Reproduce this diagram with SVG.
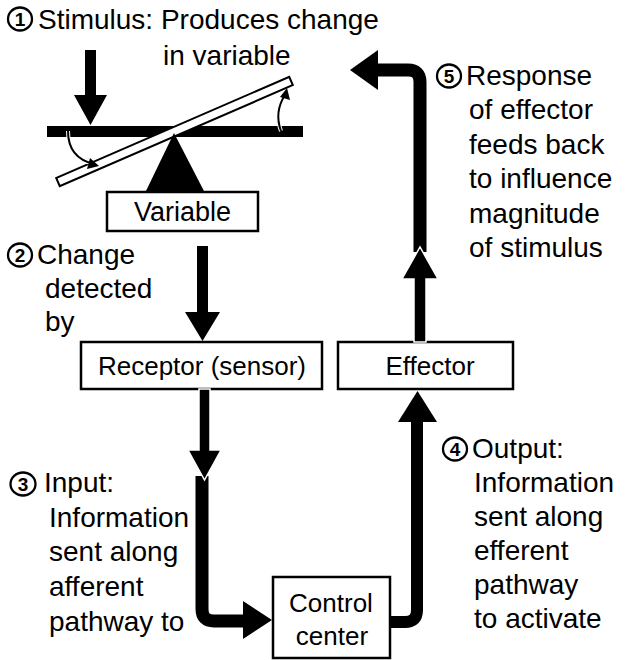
<svg xmlns="http://www.w3.org/2000/svg" width="625" height="660" viewBox="0 0 625 660">
<style>
text{font-family:"Liberation Sans",Arial,sans-serif;fill:#000}
.t{font-size:28px}
.b{font-size:26px}
.num{font-size:19px;font-weight:bold;text-anchor:middle}
.ring{fill:#fff;stroke:#000;stroke-width:2.3}
.box{fill:#fff;stroke:#000;stroke-width:2.5}
.blk{fill:#000}
.thick{fill:none;stroke:#000;stroke-width:13}
.headw{fill:#000;stroke:#fff;stroke-width:1.5}
</style>
<rect width="625" height="660" fill="#fff"/>

<g id="seesaw">
  <rect x="47" y="126" width="256" height="11" class="blk"/>
  <rect x="47.5" y="127" width="254" height="9" fill="#fff" stroke="#000" stroke-width="2" transform="rotate(-23.45 174.5 131.5)"/>
  <polygon points="174,133 205,193 145,193" class="blk"/>
  <path d="M68,131 Q68,158 94,164" fill="none" stroke="#fff" stroke-width="4"/>
  <path d="M68,131 Q68,158 94,164" fill="none" stroke="#000" stroke-width="2"/>
  <polygon points="99,166 87,169 90,158" class="blk"/>
  <path d="M281,131 Q274,112 285,95" fill="none" stroke="#fff" stroke-width="4"/>
  <path d="M281,131 Q274,112 285,95" fill="none" stroke="#000" stroke-width="2"/>
  <polygon points="287,88 290,100 280,97" class="blk"/>
</g>

<g id="variable">
  <rect x="107" y="192" width="151" height="39" class="box"/>
  <text x="182.5" y="221" class="b" text-anchor="middle" style="font-size:27px">Variable</text>
</g>

<g id="receptor">
  <rect x="81" y="342" width="241" height="47" class="box"/>
  <text x="202" y="375" class="b" text-anchor="middle">Receptor (sensor)</text>
</g>

<g id="effector">
  <rect x="338" y="342" width="175" height="47" class="box"/>
  <text x="430" y="375" class="b" text-anchor="middle">Effector</text>
</g>

<g id="control">
  <rect x="273" y="577" width="117" height="81" class="box"/>
  <text x="331" y="612" class="b" text-anchor="middle">Control</text>
  <text x="332" y="645" class="b" text-anchor="middle">center</text>
</g>

<g id="connectors">
  <path d="M85,50 H96 V95 H107 L90.5,125 L74,95 H85 Z" class="blk"/>
  <path d="M197,246 H208 V312 H220 L202.5,341 L185,312 H197 Z" class="blk"/>
  <path d="M202,476 V609 Q202,621 214,621 H246" class="thick"/>
  <path d="M199,389 H210 V450 H221 L204.5,480 L188,450 H199 Z" class="headw"/>
  <polygon points="243,601 272,620 243,639" class="blk"/>
  <path d="M390,622 H405 Q417,622 417,610 V420" class="thick" style="stroke-width:12"/>
  <polygon points="398,422 437,422 417.5,391" class="blk"/>
  <path d="M420,252 V82 Q420,70 408,70 H376" class="thick"/>
  <polygon points="378,50 378,90 350,70" class="blk"/>
  <path d="M414,342 V279 H402 L420,247 L438,279 H426 V342 Z" class="headw"/>
</g>

<g id="label1">
  <ellipse cx="20" cy="19" rx="12" ry="11.5" class="ring"/>
  <text x="20" y="26" class="num">1</text>
  <text x="38" y="29" class="t">Stimulus: Produces change</text>
  <text x="163" y="65" class="t">in variable</text>
</g>

<g id="label2">
  <ellipse cx="20" cy="255" rx="12" ry="11.5" class="ring"/>
  <text x="20" y="262" class="num">2</text>
  <text x="37" y="264" class="t">Change</text>
  <text x="45" y="298" class="t">detected</text>
  <text x="45" y="331" class="t">by</text>
</g>

<g id="label3">
  <ellipse cx="23" cy="484" rx="12.5" ry="11.5" class="ring"/>
  <text x="23" y="491" class="num">3</text>
  <text x="44" y="492" class="t">Input:</text>
  <text x="49" y="527" class="t">Information</text>
  <text x="49" y="561" class="t">sent along</text>
  <text x="49" y="596" class="t">afferent</text>
  <text x="49" y="631" class="t">pathway to</text>
</g>

<g id="label4">
  <ellipse cx="455" cy="449" rx="12" ry="11.5" class="ring"/>
  <text x="455" y="456" class="num">4</text>
  <text x="472" y="458" class="t">Output:</text>
  <text x="474" y="492" class="t">Information</text>
  <text x="474" y="526" class="t">sent along</text>
  <text x="474" y="560" class="t">efferent</text>
  <text x="474" y="594" class="t">pathway</text>
  <text x="474" y="628" class="t">to activate</text>
</g>

<g id="label5">
  <ellipse cx="449" cy="76" rx="12" ry="11.5" class="ring"/>
  <text x="449" y="83" class="num">5</text>
  <text x="466" y="85" class="t">Response</text>
  <text x="469" y="119" class="t">of effector</text>
  <text x="469" y="154" class="t">feeds back</text>
  <text x="469" y="188" class="t">to influence</text>
  <text x="469" y="223" class="t">magnitude</text>
  <text x="469" y="257" class="t">of stimulus</text>
</g>
</svg>
